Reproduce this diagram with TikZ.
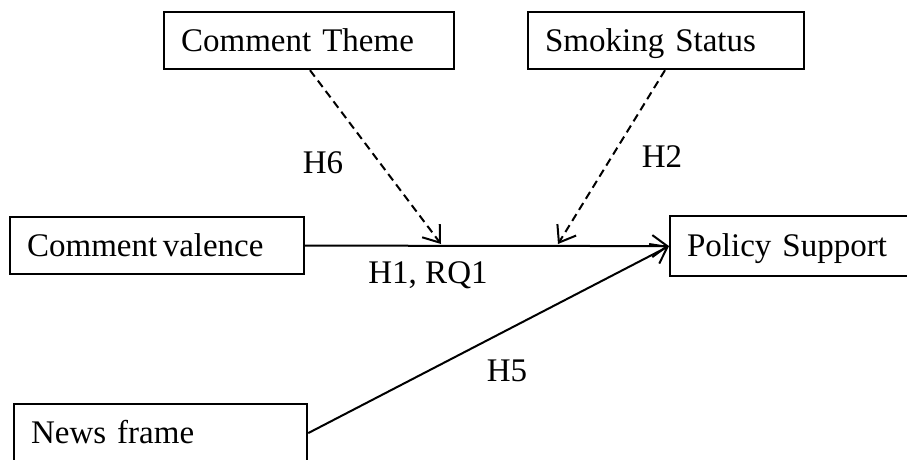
\documentclass[tikz,border=0pt]{standalone}
\usepackage{fontspec}
\setmainfont{Liberation Serif}
\usetikzlibrary{arrows.meta,calc}

\tikzset{
  varbox/.style={draw, line width=2.2pt, anchor=north west, inner xsep=17pt,
    inner ysep=0pt, align=left, text height=22pt, text depth=1pt},
  solidlink/.style={line width=2pt, -{Straight Barb[length=15pt,width=22pt,line width=2pt]}},
  dashlink/.style={solidlink, dash pattern=on 8pt off 5pt},
  hyp/.style={inner sep=0pt}
}

\begin{document}
\begin{tikzpicture}[x=1pt, y=-1pt, font=\fontsize{33}{40}\selectfont]
  \useasboundingbox (0,0) rectangle (907,459);
  \clip (0,0) rectangle (907,459);
  \fill[white] (0,0) rectangle (907,459);

  % variable boxes
  \node[varbox, minimum width=290pt, minimum height=57pt, text width=256pt] (theme) at (163,11) {Comment Theme};
  \node[varbox, minimum width=276pt, minimum height=57pt, text width=242pt] (smoke) at (527,11) {Smoking Status};
  \node[varbox, minimum width=294pt, minimum height=57pt, text width=260pt] (valence) at (9,216) {Comment\,valence};
  \node[varbox, minimum width=260pt, minimum height=60pt, text width=226pt, inner xsep=16pt] (policy) at (669,215) {Policy Support};
  \node[varbox, minimum width=293pt, minimum height=58pt, text width=259pt] (news) at (13,403) {News frame};

  % points where the moderators meet the main path
  \coordinate (m1) at (441,244);
  \coordinate (m2) at (558,244);

  % main effects
  \draw[solidlink] (valence.east) -- (policy.west);
  \draw[solidlink] (news.east) -- (policy.west);

  % moderation paths
  \draw[dashlink] ($(theme.south west)+(147,0)$) -- (m1);
  \draw[dashlink] ($(smoke.south west)+(138,0)$) -- (m2);

  % hypothesis labels
  \node[hyp] (h6) at (323,163) {H6};
  \node[hyp] (h2) at (662,157) {H2};
  \node[hyp] (h1) at (428,275) {H1, RQ1};
  \node[hyp] (h5) at (507,371) {H5};
\end{tikzpicture}
\end{document}
